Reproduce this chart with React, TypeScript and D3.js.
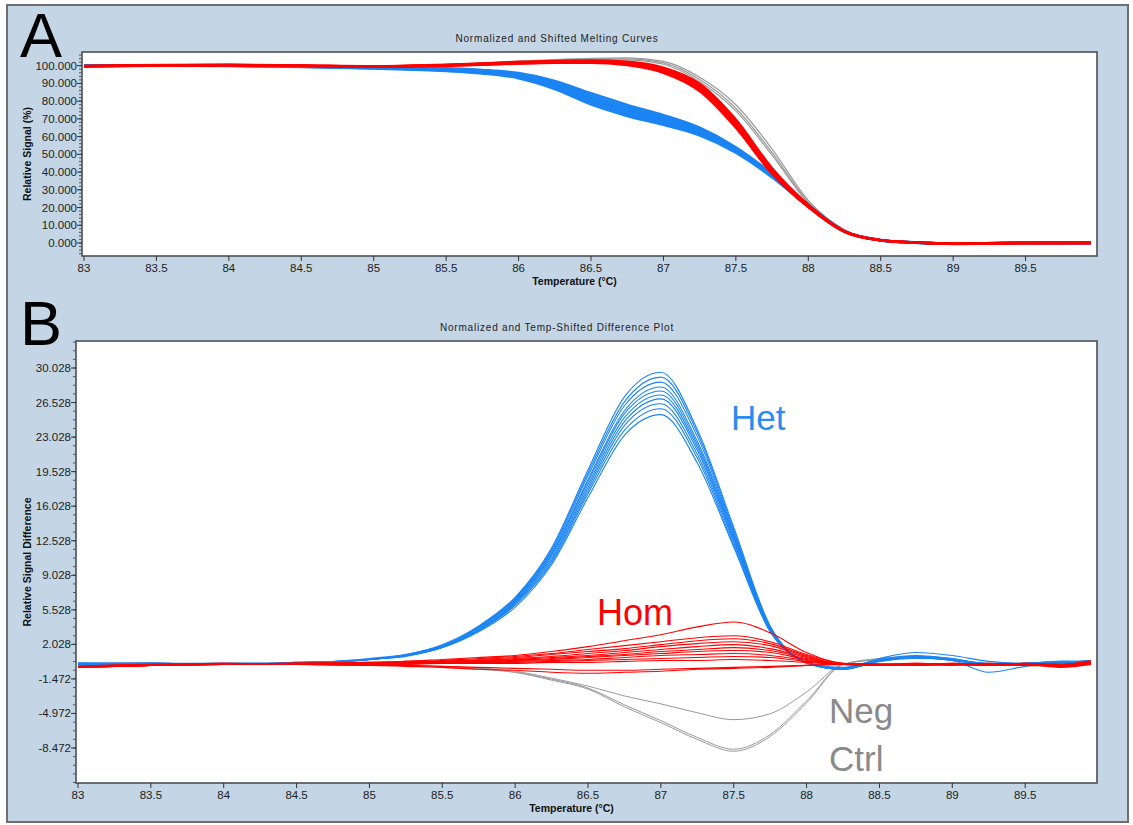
import React from 'react';
import * as d3 from 'd3';

// temperature grid (°C) for the melting curves in panel A
const tempsA = [83, 83.5, 84, 84.5, 85, 85.5, 85.75, 86, 86.25, 86.5, 86.75, 87, 87.25, 87.5, 87.75, 88, 88.25, 88.5, 88.75, 89, 89.5, 89.95];

// relative signal (%)
const hetMelt = [
  [100.0, 100.3, 100.2, 99.8, 99.4, 98.5, 97.6, 95.8, 91.4, 84.4, 77.9, 72.1, 65.0, 54.0, 39.0, 21.5, 6.7, 1.6, 0.2, -0.4, 0.0, 0.0],
  [100.1, 100.2, 100.1, 99.7, 99.2, 98.2, 97.2, 95.3, 90.5, 83.1, 76.6, 70.9, 64.1, 53.4, 38.7, 21.3, 6.6, 1.5, 0.1, -0.5, 0.0, 0.0],
  [100.0, 100.2, 100.1, 99.6, 99.0, 97.9, 96.8, 94.8, 89.6, 81.8, 75.3, 69.8, 63.2, 52.8, 38.3, 21.2, 6.6, 1.6, 0.2, -0.4, 0.0, 0.0],
  [99.9, 100.1, 100.0, 99.5, 98.8, 97.6, 96.4, 94.2, 88.7, 80.6, 74.1, 68.7, 62.4, 52.2, 37.9, 21.0, 6.5, 1.6, 0.2, -0.3, 0.1, 0.0],
  [100.0, 100.2, 100.0, 99.4, 98.6, 97.3, 96.0, 93.6, 87.8, 79.4, 72.9, 67.7, 61.6, 51.6, 37.5, 20.8, 6.5, 1.7, 0.3, -0.3, 0.0, 0.0],
  [100.0, 100.1, 99.9, 99.3, 98.4, 97.0, 95.6, 93.0, 86.9, 78.2, 71.7, 66.7, 60.8, 51.0, 37.1, 20.6, 6.4, 1.6, 0.2, -0.4, 0.0, 0.0],
];
const homMelt = [
  [99.8, 100.3, 100.5, 100.1, 99.7, 100.6, 101.3, 102.2, 102.7, 102.9, 102.2, 98.9, 89.8, 69.6, 42.2, 21.6, 6.7, 1.6, 0.3, -0.2, 0.0, 0.0],
  [99.7, 100.2, 100.4, 100.0, 99.6, 100.4, 101.1, 101.9, 102.4, 102.6, 101.8, 98.3, 88.9, 68.5, 41.4, 21.2, 6.6, 1.6, 0.3, -0.2, 0.0, 0.0],
  [99.8, 100.2, 100.3, 100.0, 99.6, 100.3, 100.9, 101.7, 102.2, 102.4, 101.5, 97.8, 88.2, 67.6, 40.8, 20.9, 6.5, 1.5, 0.2, -0.2, 0.0, 0.0],
  [99.6, 100.1, 100.4, 99.9, 99.5, 100.2, 100.8, 101.5, 102.0, 102.1, 101.1, 97.2, 87.4, 66.8, 40.2, 20.6, 6.4, 1.6, 0.3, -0.2, 0.0, 0.0],
  [99.7, 100.1, 100.3, 99.9, 99.5, 100.1, 100.7, 101.4, 101.8, 101.9, 100.8, 96.6, 86.6, 65.9, 39.7, 20.4, 6.4, 1.5, 0.2, -0.2, 0.0, 0.1],
  [99.6, 100.0, 100.2, 99.8, 99.4, 100.0, 100.5, 101.2, 101.6, 101.6, 100.4, 96.0, 85.7, 65.0, 39.1, 20.2, 6.3, 1.5, 0.2, -0.3, 0.0, 0.1],
];
const negMelt = [
  [99.9, 100.2, 100.3, 100.0, 99.7, 100.5, 101.5, 102.5, 103.5, 104.2, 104.4, 102.4, 93.5, 78.0, 53.0, 24.0, 7.5, 1.8, 0.3, -0.2, 0.0, 0.0],
  [99.9, 100.2, 100.3, 100.0, 99.7, 100.5, 101.4, 102.3, 103.2, 103.8, 103.8, 101.6, 92.2, 76.0, 51.0, 23.0, 7.2, 1.7, 0.3, -0.2, 0.0, 0.0],
  [99.9, 100.2, 100.3, 100.0, 99.7, 100.5, 101.3, 102.1, 103.0, 103.5, 103.3, 100.8, 91.0, 74.5, 49.5, 22.5, 7.0, 1.7, 0.3, -0.2, 0.0, 0.0],
];

// temperature grid (°C) for the difference plot in panel B
const tempsB = [83, 83.5, 84, 84.5, 85, 85.25, 85.5, 85.75, 86, 86.25, 86.5, 86.75, 87, 87.25, 87.5, 87.75, 88, 88.25, 88.5, 88.75, 89, 89.25, 89.5, 89.75, 89.95];

const hetDiff = [
  [0.1, 0.1, 0.0, 0.1, 0.5, 0.8, 1.7, 3.3, 5.8, 10.1, 16.9, 23.2, 25.3, 20.4, 11.9, 3.3, 0.2, -0.4, 0.4, 0.7, 0.5, 0.0, 0.1, 0.2, 0.3],
  [0.1, 0.0, 0.1, 0.1, 0.5, 0.9, 1.7, 3.4, 6.0, 10.3, 17.3, 23.7, 25.9, 20.9, 12.1, 3.4, 0.1, -0.5, 0.3, 0.6, 0.5, 0.1, 0.1, 0.2, 0.2],
  [0.0, 0.1, 0.0, 0.2, 0.5, 0.9, 1.7, 3.5, 6.1, 10.5, 17.6, 24.2, 26.4, 21.3, 12.4, 3.5, 0.2, -0.4, 0.4, 0.8, 0.6, 0.0, 0.0, 0.2, 0.3],
  [0.1, 0.1, 0.0, 0.1, 0.5, 0.9, 1.8, 3.5, 6.2, 10.7, 17.9, 24.6, 26.9, 21.7, 12.6, 3.5, 0.2, -0.3, 0.5, 0.7, 0.4, -0.1, 0.1, 0.3, 0.3],
  [0.1, 0.1, 0.0, 0.1, 0.5, 0.9, 1.8, 3.6, 6.3, 10.9, 18.2, 25.0, 27.3, 22.0, 12.8, 3.6, 0.2, -0.4, 0.4, 0.7, 0.5, 0.0, 0.1, 0.2, 0.3],
  [0.1, 0.1, 0.1, 0.1, 0.5, 0.9, 1.8, 3.7, 6.4, 11.1, 18.5, 25.4, 27.7, 22.3, 13.0, 3.7, 0.2, -0.5, 0.4, 0.8, 0.5, 0.0, 0.1, 0.2, 0.3],
  [0.0, 0.1, 0.0, 0.2, 0.5, 0.9, 1.9, 3.7, 6.5, 11.2, 18.7, 25.7, 28.1, 22.6, 13.2, 3.7, 0.2, -0.4, 0.5, 0.9, 0.6, 0.0, 0.1, 0.2, 0.4],
  [0.1, 0.0, 0.1, 0.1, 0.5, 0.9, 1.9, 3.8, 6.6, 11.4, 19.1, 26.2, 28.6, 23.1, 13.4, 3.8, 0.2, -0.5, 0.3, 0.7, 0.4, -0.8, -0.2, 0.2, 0.3],
  [0.1, 0.1, 0.0, 0.1, 0.6, 1.0, 1.9, 3.8, 6.7, 11.6, 19.4, 26.6, 29.1, 23.5, 13.6, 3.8, 0.2, -0.4, 0.6, 1.2, 0.9, 0.3, 0.1, 0.2, 0.4],
  [0.0, 0.1, 0.0, 0.2, 0.5, 1.0, 2.0, 3.9, 6.8, 11.8, 19.7, 27.1, 29.6, 23.8, 13.9, 3.9, 0.2, -0.5, 0.4, 0.8, 0.5, 0.0, 0.1, 0.3, 0.3],
];
const homDiff = [
  [-0.2, -0.1, 0.0, 0.1, 0.2, 0.3, 0.5, 0.7, 0.9, 1.3, 1.8, 2.4, 3.0, 3.8, 4.3, 3.2, 1.2, 0.1, 0.0, -0.1, 0.0, -0.1, 0.0, -0.2, 0.1],
  [-0.3, -0.1, 0.0, 0.1, 0.2, 0.3, 0.4, 0.6, 0.8, 1.1, 1.5, 1.9, 2.3, 2.7, 2.9, 2.3, 1.0, 0.1, -0.1, 0.0, 0.1, 0.0, -0.1, 0.0, 0.2],
  [-0.2, 0.0, 0.1, 0.0, 0.1, 0.2, 0.3, 0.5, 0.7, 1.0, 1.3, 1.6, 2.0, 2.4, 2.6, 2.1, 0.9, 0.0, 0.0, -0.1, 0.0, 0.1, 0.0, -0.1, 0.1],
  [-0.3, -0.1, 0.0, 0.1, 0.1, 0.2, 0.3, 0.4, 0.6, 0.8, 1.1, 1.4, 1.8, 2.1, 2.3, 1.9, 0.8, 0.0, -0.1, 0.0, 0.0, -0.1, 0.0, -0.3, 0.0],
  [-0.2, -0.1, 0.1, 0.0, 0.1, 0.2, 0.3, 0.4, 0.5, 0.7, 0.9, 1.2, 1.5, 1.8, 2.0, 1.6, 0.7, 0.0, 0.0, 0.1, 0.0, 0.0, 0.1, 0.0, 0.4],
  [-0.3, 0.0, 0.0, 0.1, 0.1, 0.1, 0.2, 0.3, 0.4, 0.6, 0.8, 1.0, 1.3, 1.5, 1.7, 1.4, 0.6, 0.0, -0.1, 0.0, 0.0, 0.0, -0.1, -0.2, 0.1],
  [-0.2, -0.1, 0.0, 0.0, 0.1, 0.1, 0.2, 0.3, 0.4, 0.5, 0.7, 0.9, 1.1, 1.3, 1.4, 1.2, 0.5, 0.0, 0.0, -0.1, 0.1, 0.0, 0.0, 0.0, 0.2],
  [-0.3, -0.1, 0.0, 0.1, 0.0, 0.1, 0.1, 0.2, 0.3, 0.4, 0.5, 0.7, 0.9, 1.0, 1.1, 0.9, 0.4, 0.0, 0.0, 0.0, 0.0, -0.1, 0.0, -0.1, 0.0],
  [-0.2, 0.0, 0.0, 0.0, 0.1, 0.1, 0.1, 0.2, 0.2, 0.3, 0.4, 0.5, 0.6, 0.7, 0.8, 0.7, 0.3, 0.0, -0.1, 0.0, 0.0, 0.0, 0.0, 0.0, 0.3],
  [-0.3, -0.1, 0.0, 0.0, 0.0, 0.0, 0.1, 0.1, 0.1, 0.2, 0.2, 0.3, 0.4, 0.4, 0.5, 0.4, 0.2, 0.0, 0.0, 0.0, -0.1, 0.0, 0.1, -0.2, 0.1],
  [-0.2, -0.1, 0.0, 0.0, -0.1, -0.1, -0.2, -0.3, -0.4, -0.5, -0.6, -0.6, -0.5, -0.4, -0.3, -0.2, -0.1, 0.0, 0.0, 0.0, 0.0, 0.0, 0.0, -0.1, 0.1],
  [-0.3, -0.1, 0.0, 0.0, -0.1, -0.2, -0.3, -0.5, -0.6, -0.8, -0.9, -0.8, -0.7, -0.5, -0.4, -0.3, -0.1, 0.0, 0.0, 0.1, 0.0, 0.0, -0.1, 0.0, 0.2],
];
const negDiff = [
  [0.0, 0.0, 0.0, 0.0, -0.1, -0.1, -0.2, -0.4, -0.7, -1.4, -2.2, -3.2, -4.0, -4.9, -5.6, -5.0, -2.8, 0.0, 0.5, 0.7, 0.4, 0.1, 0.0, 0.0, 0.0],
  [0.0, 0.0, 0.0, 0.0, -0.1, -0.1, -0.2, -0.4, -0.8, -1.6, -2.5, -4.3, -5.9, -7.6, -8.8, -7.3, -3.9, 0.0, 0.6, 0.8, 0.5, 0.1, 0.0, 0.0, 0.0],
  [0.0, 0.0, 0.0, 0.0, -0.1, -0.1, -0.3, -0.5, -0.8, -1.5, -2.4, -4.1, -5.7, -7.4, -8.6, -7.1, -3.7, 0.0, 0.5, 0.7, 0.4, 0.0, 0.0, 0.0, 0.0],
];

const xTicks = [83, 83.5, 84, 84.5, 85, 85.5, 86, 86.5, 87, 87.5, 88, 88.5, 89, 89.5];
const yTicksA = [0, 10, 20, 30, 40, 50, 60, 70, 80, 90, 100];
const yTicksB = [-8.472, -4.972, -1.472, 2.028, 5.528, 9.028, 12.528, 16.028, 19.528, 23.028, 26.528, 30.028];

const BLUE = '#1a84f2';
const RED = '#ff0000';
const GRAY = '#9a9a9a';
const FONT = '"Liberation Sans", Arial, sans-serif';

type Group = { rows: number[][]; color: string; width: number };

type PanelProps = {
  id: string;
  letter: string;
  title: string;
  yLabel: string;
  box: { left: number; top: number; right: number; bottom: number };
  x: d3.ScaleLinear<number, number>;
  y: d3.ScaleLinear<number, number>;
  temps: number[];
  groups: Group[];
  yTicks: number[];
  minorStep: number;
  yFormat: (v: number) => string;
  letterY: number;
};

function Panel(p: PanelProps) {
  const { box, x, y } = p;
  const line = (rows: number[]) =>
    d3.line<number>()
      .x((_, i) => x(p.temps[i]))
      .y(v => y(v))
      .curve(d3.curveMonotoneX)(rows) || '';
  const [lo, hi] = [y.invert(box.bottom), y.invert(box.top)];
  const start = p.yTicks[0] - Math.ceil((p.yTicks[0] - lo) / p.minorStep) * p.minorStep;
  const minor = d3.range(start, hi, p.minorStep).filter(v => v >= lo && v <= hi);
  const midX = (box.left + box.right) / 2;
  return (
    <g>
      <text x={20} y={p.letterY} fontFamily={FONT} fontSize={63} fill="#000">{p.letter}</text>
      <text x={557} y={box.top - 10} textAnchor="middle" fontFamily={FONT} fontSize={10} letterSpacing={0.8} fill="#222">{p.title}</text>
      <clipPath id={`clip-${p.id}`}>
        <rect x={box.left} y={box.top} width={box.right - box.left} height={box.bottom - box.top} />
      </clipPath>
      <rect x={box.left} y={box.top} width={box.right - box.left} height={box.bottom - box.top} fill="#fff" />
      <g clipPath={`url(#clip-${p.id})`}>
        {p.groups.map((g, gi) =>
          g.rows.map((r, ri) => (
            <path key={`${gi}-${ri}`} d={line(r)} fill="none" stroke={g.color} strokeWidth={g.width} strokeLinejoin="round" />
          ))
        )}
      </g>
      <rect x={box.left} y={box.top} width={box.right - box.left} height={box.bottom - box.top} fill="none" stroke="#4c5056" strokeWidth={1.6} />
      {/* y axis */}
      {minor.map((v, i) => (
        <line key={`m${i}`} x1={box.left - 3} x2={box.left} y1={y(v)} y2={y(v)} stroke="#555" strokeWidth={1} />
      ))}
      {p.yTicks.map(v => (
        <g key={`y${v}`}>
          <line x1={box.left - 5} x2={box.left} y1={y(v)} y2={y(v)} stroke="#333" strokeWidth={1} />
          <text x={box.left - 5} y={y(v) + 4} textAnchor="end" fontFamily={FONT} fontSize={11.5} fill="#222">{p.yFormat(v)}</text>
        </g>
      ))}
      {/* x axis */}
      {xTicks.map(v => (
        <g key={`x${v}`}>
          <line x1={x(v)} x2={x(v)} y1={box.bottom} y2={box.bottom + 5} stroke="#333" strokeWidth={1} />
          <text x={x(v)} y={box.bottom + 16} textAnchor="middle" fontFamily={FONT} fontSize={11.5} fill="#222">{v}</text>
        </g>
      ))}
      <text x={midX - 15} y={box.bottom + 29} textAnchor="middle" fontFamily={FONT} fontSize={10.5} fontWeight="bold" fill="#111">Temperature (°C)</text>
      <text transform={`translate(31,${(box.top + box.bottom) / 2}) rotate(-90)`} textAnchor="middle" fontFamily={FONT} fontSize={10.5} fontWeight="bold" fill="#111">{p.yLabel}</text>
    </g>
  );
}

export default function App() {
  const boxA = { left: 82, top: 52, right: 1097, bottom: 256 };
  const boxB = { left: 76, top: 341, right: 1097, bottom: 783 };
  const xA = d3.scaleLinear().domain([83, 90]).range([84, 1098]);
  const yA = d3.scaleLinear().domain([0, 100]).range([243, 65.7]);
  const xB = d3.scaleLinear().domain([83, 90]).range([78, 1098]);
  const yB = d3.scaleLinear().domain([-8.472, 30.028]).range([748, 368]);

  return (
    <svg width={1133} height={825} style={{ position: 'absolute', left: 0, top: 0, display: 'block' }}>
      <rect x={0} y={0} width={1133} height={825} fill="#fff" />
      <rect x={7} y={5} width={1121} height={817} fill="#c4d5e5" stroke="#6e6e6e" strokeWidth={2} />
      <Panel
        id="a" letter="A" letterY={57}
        title="Normalized and Shifted Melting Curves"
        yLabel="Relative Signal (%)"
        box={boxA} x={xA} y={yA} temps={tempsA}
        groups={[
          { rows: negMelt, color: GRAY, width: 1.2 },
          { rows: hetMelt, color: BLUE, width: 2.6 },
          { rows: homMelt, color: RED, width: 2.4 },
        ]}
        yTicks={yTicksA} minorStep={2}
        yFormat={v => v.toFixed(3)}
      />
      <Panel
        id="b" letter="B" letterY={345}
        title="Normalized and Temp-Shifted Difference Plot"
        yLabel="Relative Signal Difference"
        box={boxB} x={xB} y={yB} temps={tempsB}
        groups={[
          { rows: negDiff, color: GRAY, width: 1 },
          { rows: hetDiff, color: BLUE, width: 1.1 },
          { rows: homDiff, color: RED, width: 1.1 },
        ]}
        yTicks={yTicksB} minorStep={0.875}
        yFormat={v => v.toFixed(3)}
      />
      <text x={731} y={430} fontFamily={FONT} fontSize={35} fill="#2a8cf0">Het</text>
      <text x={597} y={625} fontFamily={FONT} fontSize={36} fill={RED}>Hom</text>
      <text x={829} y={723} fontFamily={FONT} fontSize={35} fill="#8a8a8a">Neg</text>
      <text x={829} y={771} fontFamily={FONT} fontSize={35} fill="#8a8a8a">Ctrl</text>
    </svg>
  );
}
